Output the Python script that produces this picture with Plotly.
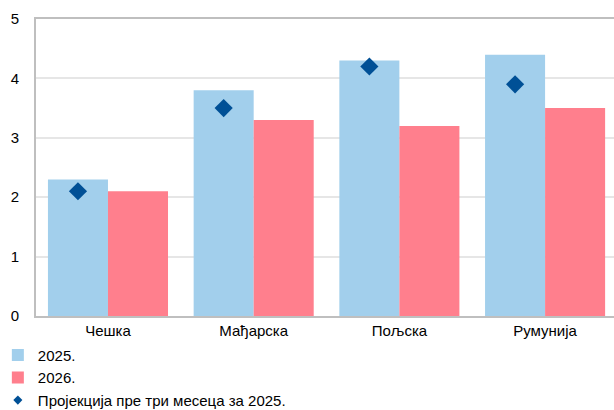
import plotly.graph_objects as go

categories = ["Чешка", "Мађарска", "Пољска", "Румунија"]
values_2025 = [2.3, 3.8, 4.3, 4.4]
values_2026 = [2.1, 3.3, 3.2, 3.5]
projection_2025 = [2.1, 3.5, 4.2, 3.9]
y_ticks = [0, 1, 2, 3, 4, 5]

FONT = "Liberation Sans, Arial, sans-serif"
bargap = 0.176
bar_w = (1 - bargap) / 2
idx = list(range(len(categories)))
proj_name = "Пројекција пре три месеца за 2025."

fig = go.Figure()
fig.add_trace(go.Bar(x=idx, y=values_2025, name="2025.", width=bar_w,
                     offset=-bar_w, marker=dict(color="#A2CFEC", line_width=0)))
fig.add_trace(go.Bar(x=idx, y=values_2026, name="2026.", width=bar_w,
                     offset=0, marker=dict(color="#FF7F8D", line_width=0)))
fig.add_trace(go.Scatter(x=[i - bar_w / 2 for i in idx], y=projection_2025,
                         mode="markers", name=proj_name, showlegend=False,
                         marker=dict(symbol="diamond", size=14, color="#005096")))
# legend entry with a small diamond, as in the original
fig.add_trace(go.Scatter(x=[None], y=[None], mode="markers", name=proj_name,
                         marker=dict(symbol="diamond", size=7, color="#005096")))

fig.update_layout(
    width=614, height=410,
    margin=dict(l=36, r=0, t=19, b=94, autoexpand=False),
    paper_bgcolor="white", plot_bgcolor="white",
    font=dict(family=FONT, size=15, color="#000000"),
    showlegend=True,
    legend=dict(x=-0.066, xanchor="left", y=-0.077, yanchor="top",
                orientation="v", font=dict(size=15, family=FONT),
                bgcolor="rgba(0,0,0,0)", itemwidth=30, tracegroupgap=0),
    barmode="overlay",
)
fig.update_xaxes(range=[-0.494, 3.473], tickmode="array", tickvals=idx, ticktext=categories,
                 showline=True, mirror=True, linecolor="#BFBFBF", linewidth=2,
                 showgrid=False, ticks="", tickfont=dict(size=15), zeroline=False,
                 automargin=False)
fig.update_yaxes(range=[0, 5], tickvals=y_ticks, showline=True, linecolor="#BFBFBF",
                 linewidth=2, gridcolor="#E6E6E6", gridwidth=1.5, zeroline=False,
                 ticks="", tickfont=dict(size=15), ticklabelstandoff=12,
                 automargin=False)

fig.write_html("out.html", config={"displayModeBar": False},
               post_script="document.body.style.margin='0';document.body.style.padding='0';")
